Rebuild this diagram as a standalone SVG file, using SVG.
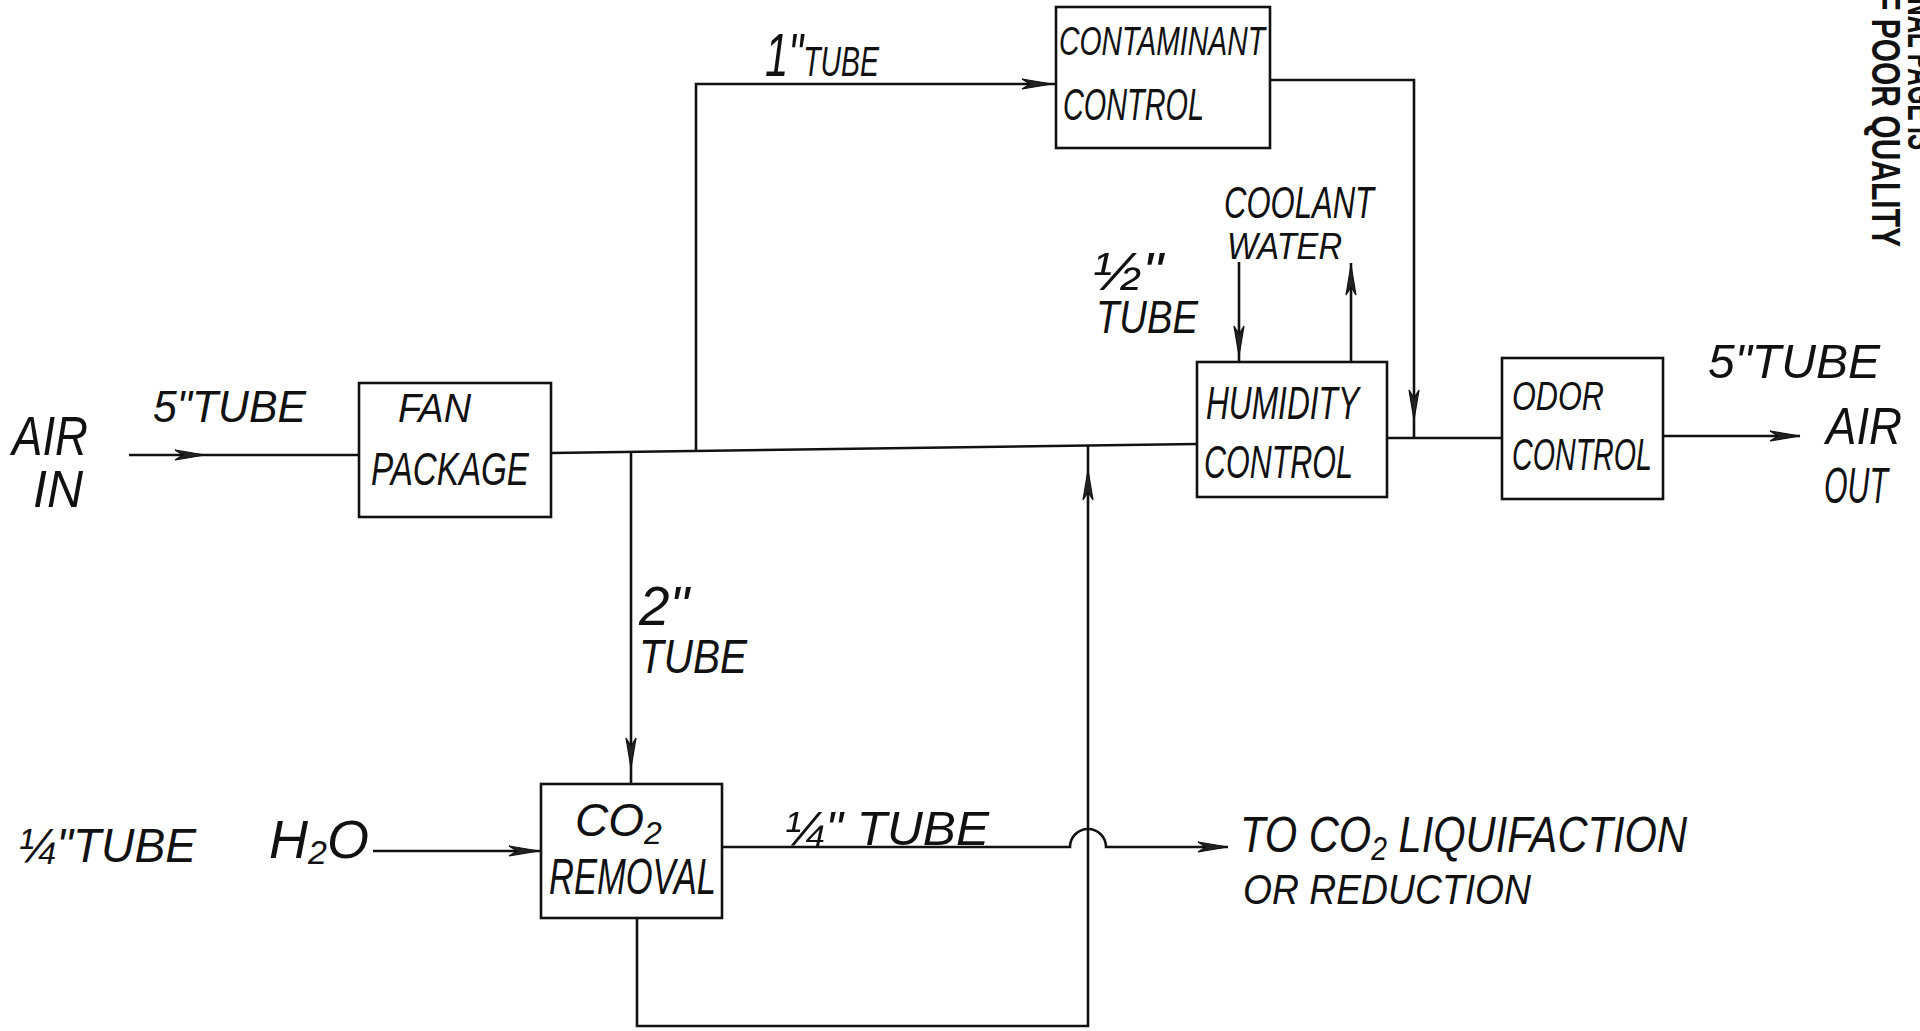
<svg xmlns="http://www.w3.org/2000/svg" xmlns:xlink="http://www.w3.org/1999/xlink" width="1920" height="1031" viewBox="0 0 1920 1031">
<style>
.bg{fill:#ffffff}
.box{fill:none;stroke:#111;stroke-width:2.6}
.ln{fill:none;stroke:#111;stroke-width:2.6;stroke-linejoin:miter}
.t{font-family:"Liberation Sans","DejaVu Sans",sans-serif;font-style:italic;fill:#111}
.st{font-family:"Liberation Sans","DejaVu Sans",sans-serif;font-weight:bold;fill:#111}
.ah{fill:#222;stroke:#111;stroke-width:1.2}
</style>
<defs>
<path id="ah" d="M-30,-5 L0,0 L-30,5 L-22,0 Z"/>
</defs>
<rect class="bg" x="0" y="0" width="1920" height="1031"/>

<g id="connectors">
<path class="ln" d="M129,455 H359"/>
<path class="ln" d="M551,453 L1197,444"/>
<path class="ln" d="M696,451 V84 H1056"/>
<path class="ln" d="M1270,80 H1414 V438"/>
<path class="ln" d="M1239,262 V362"/>
<path class="ln" d="M1351,362 V263"/>
<path class="ln" d="M1387,438 H1502"/>
<path class="ln" d="M1663,436 H1800"/>
<path class="ln" d="M631,452 V784"/>
<path class="ln" d="M637,918 V1026 H1088 V446"/>
<path class="ln" d="M373,851 H541"/>
<path class="ln" d="M722,847 H1070 A18,18 0 0 1 1106,847 H1228"/>
<use xlink:href="#ah" class="ah" transform="translate(205,455)"/>
<use xlink:href="#ah" class="ah" transform="translate(1052,84)"/>
<use xlink:href="#ah" class="ah" transform="translate(1414,420) rotate(90)"/>
<use xlink:href="#ah" class="ah" transform="translate(1239,356) rotate(90)"/>
<use xlink:href="#ah" class="ah" transform="translate(1351,265) rotate(-90)"/>
<use xlink:href="#ah" class="ah" transform="translate(1800,436)"/>
<use xlink:href="#ah" class="ah" transform="translate(631,768) rotate(90)"/>
<use xlink:href="#ah" class="ah" transform="translate(1088,470) rotate(-90)"/>
<use xlink:href="#ah" class="ah" transform="translate(539,851)"/>
<use xlink:href="#ah" class="ah" transform="translate(1228,847)"/>
</g>

<g id="air-in">
<text class="t" x="12" y="455" font-size="56" textLength="76" lengthAdjust="spacingAndGlyphs">AIR</text>
<text class="t" x="33" y="507" font-size="52" textLength="50" lengthAdjust="spacingAndGlyphs">IN</text>
<text class="t" x="153" y="422" font-size="44" textLength="153" lengthAdjust="spacingAndGlyphs">5"TUBE</text>
</g>

<g id="fan-package">
<rect class="box" x="359" y="383" width="192" height="134"/>
<text class="t" x="398" y="422" font-size="40" textLength="73" lengthAdjust="spacingAndGlyphs">FAN</text>
<text class="t" x="371" y="485" font-size="46" textLength="158" lengthAdjust="spacingAndGlyphs">PACKAGE</text>
</g>

<g id="label-1in">
<text class="t" x="765" y="76" font-size="42" textLength="114" lengthAdjust="spacingAndGlyphs"><tspan font-size="62">1"</tspan>TUBE</text>
</g>

<g id="contaminant-control">
<rect class="box" x="1056" y="7" width="214" height="141"/>
<text class="t" x="1059" y="55" font-size="40" textLength="206" lengthAdjust="spacingAndGlyphs">CONTAMINANT</text>
<text class="t" x="1063" y="120" font-size="44" textLength="141" lengthAdjust="spacingAndGlyphs">CONTROL</text>
</g>

<g id="coolant-water">
<text class="t" x="1224" y="218" font-size="44" textLength="150" lengthAdjust="spacingAndGlyphs">COOLANT</text>
<text class="t" x="1227" y="259" font-size="36" textLength="115" lengthAdjust="spacingAndGlyphs">WATER</text>
<text class="t" x="1093" y="290" font-size="54" textLength="70" lengthAdjust="spacingAndGlyphs">½"</text>
<text class="t" x="1096" y="333" font-size="46" textLength="102" lengthAdjust="spacingAndGlyphs">TUBE</text>
</g>

<g id="humidity-control">
<rect class="box" x="1197" y="362" width="190" height="135"/>
<text class="t" x="1206" y="419" font-size="46" textLength="153" lengthAdjust="spacingAndGlyphs">HUMIDITY</text>
<text class="t" x="1204" y="478" font-size="46" textLength="149" lengthAdjust="spacingAndGlyphs">CONTROL</text>
</g>

<g id="odor-control">
<rect class="box" x="1502" y="358" width="161" height="141"/>
<text class="t" x="1512" y="410" font-size="40" textLength="92" lengthAdjust="spacingAndGlyphs">ODOR</text>
<text class="t" x="1512" y="470" font-size="44" textLength="140" lengthAdjust="spacingAndGlyphs">CONTROL</text>
</g>

<g id="air-out">
<text class="t" x="1708" y="378" font-size="48" textLength="172" lengthAdjust="spacingAndGlyphs">5"TUBE</text>
<text class="t" x="1826" y="444" font-size="52" textLength="76" lengthAdjust="spacingAndGlyphs">AIR</text>
<text class="t" x="1824" y="503" font-size="50" textLength="64" lengthAdjust="spacingAndGlyphs">OUT</text>
</g>

<g id="label-2in">
<text class="t" x="639" y="625" font-size="56" textLength="50" lengthAdjust="spacingAndGlyphs">2"</text>
<text class="t" x="639" y="673" font-size="48" textLength="108" lengthAdjust="spacingAndGlyphs">TUBE</text>
</g>

<g id="co2-removal">
<rect class="box" x="541" y="784" width="181" height="134"/>
<text class="t" x="575" y="836" font-size="46">CO<tspan font-size="32" dy="8">2</tspan></text>
<text class="t" x="549" y="894" font-size="50" textLength="167" lengthAdjust="spacingAndGlyphs">REMOVAL</text>
</g>

<g id="h2o-in">
<text class="t" x="18" y="862" font-size="48" textLength="178" lengthAdjust="spacingAndGlyphs">¼"TUBE</text>
<text class="t" x="269" y="858" font-size="54">H<tspan font-size="34" dy="6">2</tspan><tspan dy="-6">O</tspan></text>
</g>

<g id="co2-out">
<text class="t" x="784" y="845" font-size="48" textLength="205" lengthAdjust="spacingAndGlyphs">¼" TUBE</text>
<text class="t" x="1240" y="852" font-size="50" textLength="447" lengthAdjust="spacingAndGlyphs">TO CO<tspan font-size="34" dy="8">2</tspan><tspan dy="-8"> LIQUIFACTION</tspan></text>
<text class="t" x="1243" y="904" font-size="42" textLength="288" lengthAdjust="spacingAndGlyphs">OR REDUCTION</text>
</g>

<g id="stamp">
<text class="st" transform="translate(1872,-8) rotate(90)" font-size="40" textLength="255" lengthAdjust="spacingAndGlyphs">F POOR QUALITY</text>
<text class="st" transform="translate(1908,-70) rotate(90)" font-size="40" textLength="220" lengthAdjust="spacingAndGlyphs">ORIGINAL PAGE IS</text>
</g>
</svg>
